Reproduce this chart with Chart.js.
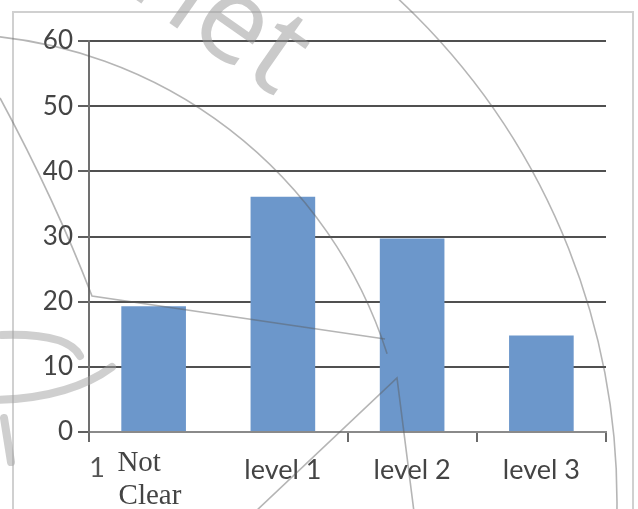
<!DOCTYPE html>
<html>
<head>
<meta charset="utf-8">
<script src="https://cdn.jsdelivr.net/npm/chart.js@4"></script>
<style>
  html, body { margin: 0; padding: 0; background: #fff; }
  #c { display: block; }
</style>
</head>
<body>
<canvas id="c" width="638" height="509"></canvas>
<script>
// Categories along the x axis (first one is a two-line label)
const categories = [['Not', 'Clear'], 'level 1', 'level 2', 'level 3'];
// Bar heights
const values = [19.3, 36.1, 29.7, 14.8];
// Value axis ticks
const yTicks = [0, 10, 20, 30, 40, 50, 60];

const BAR_COLOR = '#6c97cb';
const SANS = 'Lato, "Open Sans", sans-serif';
const SERIF = '"Liberation Serif", "DejaVu Serif", serif';

// Light page frame behind the chart
const framePlugin = {
  id: 'frame',
  beforeDraw(chart) {
    const ctx = chart.ctx;
    ctx.save();
    ctx.fillStyle = '#ffffff';
    ctx.fillRect(0, 0, chart.width, chart.height);
    ctx.strokeStyle = '#d0d0d0';
    ctx.lineWidth = 2;
    ctx.strokeRect(13, 12, 620, 520);
    ctx.restore();
  }
};

// Faint stamp overlay printed across the figure
const stampPlugin = {
  id: 'stamp',
  afterDraw(chart) {
    const ctx = chart.ctx;
    ctx.save();
    // lettering
    ctx.translate(125, -8);
    ctx.rotate(35 * Math.PI / 180);
    ctx.font = '120px "Open Sans", sans-serif';
    ctx.fillStyle = 'rgba(150,150,150,0.5)';
    ctx.textBaseline = 'alphabetic';
    ctx.fillText('net', 0, 0);
    ctx.restore();

    ctx.save();
    ctx.strokeStyle = 'rgba(90,90,90,0.45)';
    ctx.lineWidth = 1.6;
    ctx.beginPath();
    ctx.arc(-71, 502, 688, -Math.PI / 2, 0.02);
    ctx.stroke();
    ctx.beginPath();
    ctx.arc(-51, 494, 460, -Math.PI / 2 + 0.05, -0.31);
    ctx.stroke();
    ctx.beginPath();
    ctx.moveTo(0, 98);
    ctx.quadraticCurveTo(55, 200, 92, 296);
    ctx.lineTo(385, 339);
    ctx.stroke();
    ctx.beginPath();
    ctx.moveTo(255, 512);
    ctx.lineTo(397, 378);
    ctx.lineTo(414, 512);
    ctx.stroke();

    // heavy strokes at the left edge
    ctx.strokeStyle = 'rgba(160,160,160,0.5)';
    ctx.lineWidth = 8;
    ctx.lineCap = 'round';
    ctx.beginPath();
    ctx.moveTo(2, 335);
    ctx.quadraticCurveTo(68, 333, 80, 356);
    ctx.stroke();
    ctx.beginPath();
    ctx.moveTo(-4, 400);
    ctx.quadraticCurveTo(70, 398, 112, 367);
    ctx.stroke();
    ctx.beginPath();
    ctx.moveTo(4, 418);
    ctx.lineTo(11, 462);
    ctx.stroke();
    ctx.restore();

    // stray glyph under the axis corner
    ctx.save();
    ctx.font = '27px ' + SANS;
    ctx.fillStyle = '#555';
    ctx.textAlign = 'center';
    ctx.textBaseline = 'alphabetic';
    ctx.fillText('1', 97, 477);
    ctx.restore();
  }
};

new Chart(document.getElementById('c'), {
  type: 'bar',
  data: {
    labels: categories,
    datasets: [{
      data: values,
      backgroundColor: BAR_COLOR,
      borderWidth: 0,
      barPercentage: 0.5,
      categoryPercentage: 1.0
    }]
  },
  options: {
    responsive: false,
    animation: false,
    devicePixelRatio: 1,
    layout: { padding: { left: 0, right: 32, top: 41, bottom: 0 } },
    plugins: {
      legend: { display: false },
      tooltip: { enabled: false }
    },
    scales: {
      x: {
        offset: true,
        afterFit(scale) { scale.height = 77; },
        border: { display: true, color: '#8a8a8a', width: 2 },
        grid: {
          offset: true,
          drawOnChartArea: false,
          drawTicks: true,
          tickLength: 10,
          lineWidth: 2,
          tickColor: (c) => (c.index === 1 ? 'rgba(0,0,0,0)' : '#6a6a6a')
        },
        ticks: {
          autoSkip: false,
          maxRotation: 0,
          padding: 5,
          color: '#444',
          font: (c) => (c.index === 0
            ? { family: SERIF, size: 29, lineHeight: 33 / 29 }
            : { family: SANS, size: 27, lineHeight: 46 / 27 }),
          callback(value, index) {
            const lbl = categories[index];
            if (Array.isArray(lbl)) {
              // left-align the two serif lines
              return [lbl[0] + '    ', lbl[1] + ' '];
            }
            return lbl;
          }
        }
      },
      y: {
        min: yTicks[0],
        max: yTicks[yTicks.length - 1],
        afterFit(scale) { scale.width = 89; },
        afterBuildTicks(scale) { scale.ticks = yTicks.map(v => ({ value: v })); },
        border: { display: true, color: '#707070', width: 2 },
        grid: {
          drawTicks: true,
          tickLength: 11,
          lineWidth: 2,
          color: (c) => (c.tick && c.tick.value === 0 ? '#8a8a8a' : '#505050'),
          tickColor: '#606060'
        },
        ticks: {
          padding: 5,
          color: '#444',
          font: { family: SANS, size: 26 }
        }
      }
    }
  },
  plugins: [framePlugin, stampPlugin]
});
</script>
</body>
</html>
